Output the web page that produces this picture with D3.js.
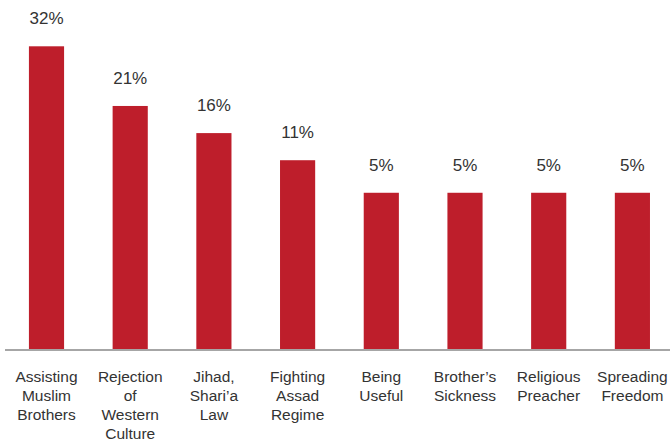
<!DOCTYPE html>
<html>
<head>
<meta charset="utf-8">
<script src="https://cdn.jsdelivr.net/npm/d3@7"></script>
<style>
  html, body { margin: 0; padding: 0; background: #fff; }
  svg { display: block; }
  text { font-family: "Liberation Sans", Arial, Helvetica, sans-serif; fill: #333; }
</style>
</head>
<body>
<svg id="chart" width="670" height="441"></svg>
<script>
// Motivation categories (each label split into lines)
const categories = [
  ["Assisting", "Muslim", "Brothers"],
  ["Rejection", "of", "Western", "Culture"],
  ["Jihad,", "Shari\u2019a", "Law"],
  ["Fighting", "Assad", "Regime"],
  ["Being", "Useful"],
  ["Brother\u2019s", "Sickness"],
  ["Religious", "Preacher"],
  ["Spreading", "Freedom"]
];
// Share of respondents, percent
const values = [32, 21, 16, 11, 5, 5, 5, 5];
const valueLabels = ["32%", "21%", "16%", "11%", "5%", "5%", "5%", "5%"];

const width = 670, height = 441;
const baseline = 349;
const svg = d3.select("#chart");

const keys = categories.map((c, i) => i);
const x = d3.scaleBand()
  .domain(keys)
  .range([4.65, 674.25])
  .paddingInner(0.58)
  .paddingOuter(0.29);

// value axis floor sits below zero so the small bars keep visible height
const y = d3.scaleLinear()
  .domain([-23.8, 32])
  .range([baseline, 46.3]);

// bars
svg.append("g")
  .selectAll("rect")
  .data(values)
  .join("rect")
  .attr("x", (d, i) => x(i))
  .attr("width", x.bandwidth())
  .attr("y", d => y(d))
  .attr("height", d => y(y.domain()[0]) - y(d))
  .attr("fill", "#be1e2b");

// value labels
svg.append("g")
  .selectAll("text")
  .data(values)
  .join("text")
  .attr("x", (d, i) => x(i) + x.bandwidth() / 2)
  .attr("y", d => y(d) - 22)
  .attr("text-anchor", "middle")
  .style("font-size", "17px")
  .text((d, i) => valueLabels[i]);

// category axis
const axis = d3.axisBottom(x).tickSize(0).tickFormat(() => "");
const axisG = svg.append("g")
  .attr("transform", `translate(0,${baseline + 1})`)
  .call(axis);
axisG.select(".domain").remove();
axisG.append("line")
  .attr("x1", 5).attr("x2", width)
  .attr("y1", 0).attr("y2", 0)
  .attr("stroke", "#a6a6a6")
  .attr("stroke-width", 2);

axisG.selectAll(".tick").each(function(i) {
  const t = d3.select(this).append("text")
    .attr("text-anchor", "middle")
    .attr("y", 32)
    .style("font-size", "15.5px");
  categories[i].forEach((line, k) => {
    t.append("tspan")
      .attr("x", 0)
      .attr("dy", k === 0 ? 0 : 19)
      .text(line);
  });
});
</script>
</body>
</html>
